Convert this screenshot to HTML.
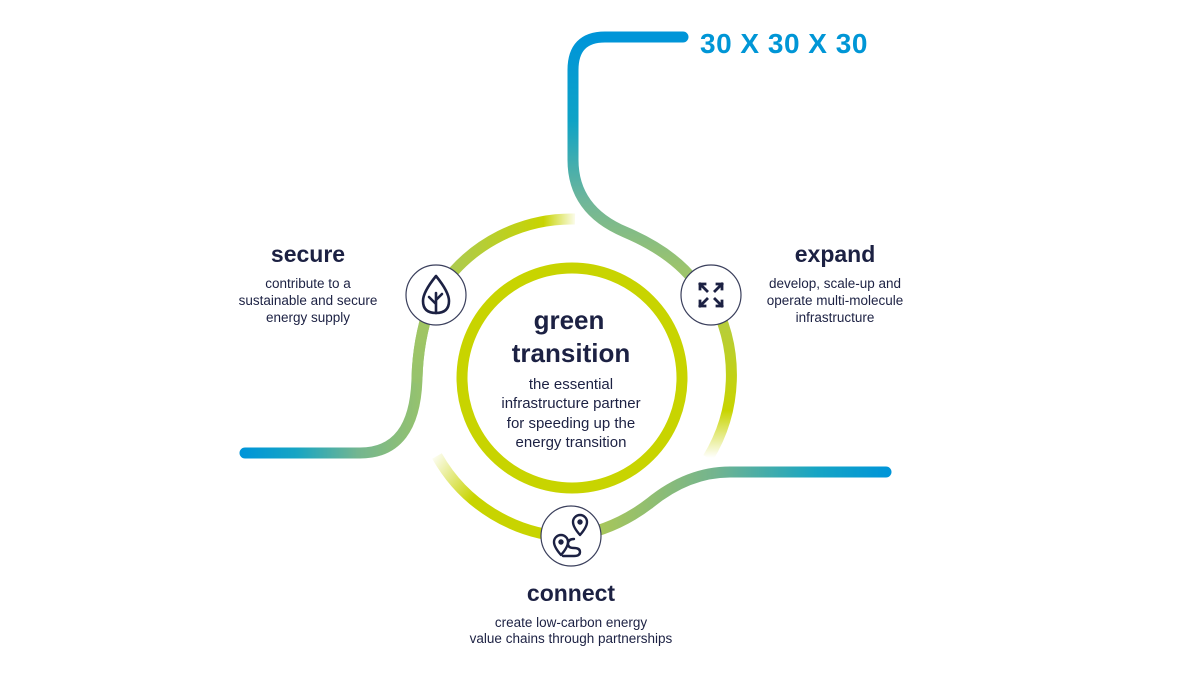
<!DOCTYPE html>
<html><head><meta charset="utf-8"><style>
html,body{margin:0;padding:0;background:#fff}
svg{display:block}
text{font-family:"Liberation Sans",sans-serif;fill:#1c2143}
</style></head><body>
<svg width="1200" height="675" viewBox="0 0 1200 675">
<defs>
<linearGradient id="gTop" gradientUnits="userSpaceOnUse" x1="0" y1="40" x2="0" y2="270">
<stop offset="0" stop-color="#0095d8"/><stop offset="0.35" stop-color="#0ea3c6"/><stop offset="0.7" stop-color="#6fb69a"/><stop offset="1" stop-color="#9dc46c"/></linearGradient>
<linearGradient id="gLeft" gradientUnits="userSpaceOnUse" x1="243" y1="0" x2="420" y2="0">
<stop offset="0" stop-color="#0095d8"/><stop offset="0.3" stop-color="#17a5c4"/><stop offset="0.65" stop-color="#74b690"/><stop offset="1" stop-color="#95c26e"/></linearGradient>
<linearGradient id="gRight" gradientUnits="userSpaceOnUse" x1="600" y1="0" x2="888" y2="0">
<stop offset="0" stop-color="#a7c65a"/><stop offset="0.4" stop-color="#73b48f"/><stop offset="0.75" stop-color="#17a5c4"/><stop offset="1" stop-color="#0095d8"/></linearGradient>
<linearGradient id="gArcTop" gradientUnits="userSpaceOnUse" x1="440" y1="0" x2="578" y2="0">
<stop offset="0" stop-color="#a9c95a"/><stop offset="0.75" stop-color="#c8d400"/><stop offset="1" stop-color="#c8d400" stop-opacity="0"/></linearGradient>
<linearGradient id="gArcRight" gradientUnits="userSpaceOnUse" x1="0" y1="300" x2="0" y2="458">
<stop offset="0" stop-color="#b2cb4a"/><stop offset="0.7" stop-color="#c8d400"/><stop offset="1" stop-color="#c8d400" stop-opacity="0"/></linearGradient>
<linearGradient id="gArcBL" gradientUnits="userSpaceOnUse" x1="435" y1="450" x2="540" y2="530">
<stop offset="0" stop-color="#c8d400" stop-opacity="0"/><stop offset="0.45" stop-color="#c8d400"/><stop offset="1" stop-color="#c8d400"/></linearGradient>
<linearGradient id="gArcL" gradientUnits="userSpaceOnUse" x1="0" y1="300" x2="0" y2="390">
<stop offset="0" stop-color="#a5c75e"/><stop offset="1" stop-color="#95c26e"/></linearGradient>
</defs>
<g fill="none" stroke-linecap="round" stroke-width="11">
<path d="M683 37 L605 37 Q573 37 573 70 L573 160 Q573 210 625 232 Q672 252 695 282" stroke="url(#gTop)"/>
<path d="M442 286 A159 159 0 0 1 575 219" stroke="url(#gArcTop)" stroke-linecap="butt"/>
<path d="M430 305 Q418 340 417 378 Q415 453 360 453 L245 453" stroke="url(#gLeft)"/>
<path d="M430 305 Q418 340 417 378" stroke="url(#gArcL)"/>
<path d="M437 456 A159 159 0 0 0 571 537" stroke="url(#gArcBL)" stroke-linecap="butt"/>
<path d="M571 537 Q615 530 650 503 Q688 472 730 472 L886 472" stroke="url(#gRight)"/>
<path d="M711 297 A159 159 0 0 1 708 458" stroke="url(#gArcRight)" stroke-linecap="butt"/>
</g>
<circle cx="572" cy="378" r="110" fill="#fff" stroke="#c8d400" stroke-width="11"/>
<g fill="#fff" stroke="#3a3f5c" stroke-width="1.2">
<circle cx="436" cy="295" r="30"/>
<circle cx="711" cy="295" r="30"/>
<circle cx="571" cy="536" r="30"/>
</g>
<g fill="none" stroke="#1c2143" stroke-width="2.6" stroke-linecap="round" stroke-linejoin="round">
<path d="M436 276 Q423 292 423 301 Q423 313 436 313 Q449 313 449 301 Q449 292 436 276 Z"/>
<path d="M436 313 L436 293 M436 304 L429 297 M436 300 L442 294"/>
</g>
<g fill="none" stroke="#1c2143" stroke-width="2.8" stroke-linecap="square">
<path d="M700 284 L707 291 M700 284 L700 289 M700 284 L705 284"/>
<path d="M722 284 L715 291 M722 284 L722 289 M722 284 L717 284"/>
<path d="M700 306 L707 299 M700 306 L700 301 M700 306 L705 306"/>
<path d="M722 306 L715 299 M722 306 L722 301 M722 306 L717 306"/>
</g>
<g fill="none" stroke="#1c2143" stroke-width="2.4" stroke-linecap="round" stroke-linejoin="round">
<path d="M580 535 Q573 527 573 522 A7 7 0 0 1 587 522 Q587 527 580 535 Z"/>
<circle cx="580" cy="522" r="1.5" fill="#1c2143"/>
<path d="M561 555 Q554 547 554 542 A7 7 0 0 1 568 542 Q568 547 561 555 Z"/>
<circle cx="561" cy="542" r="1.5" fill="#1c2143"/>
<path d="M574 539 Q568 539 568 544 Q568 548 574 548 Q580 548 580 552 Q580 556 574 556 L563 556"/>
</g>
<text x="700" y="53" font-size="28" font-weight="bold" letter-spacing="0.5" style="fill:#0096d6">30 X 30 X 30</text>
<g text-anchor="middle">
<text x="308" y="262" font-size="23" font-weight="bold">secure</text>
<text x="308" y="288" font-size="13.5">contribute to a</text>
<text x="308" y="305" font-size="13.5">sustainable and secure</text>
<text x="308" y="322" font-size="13.5">energy supply</text>
<text x="835" y="262" font-size="23" font-weight="bold">expand</text>
<text x="835" y="288" font-size="13.5">develop, scale-up and</text>
<text x="835" y="305" font-size="13.5">operate multi-molecule</text>
<text x="835" y="322" font-size="13.5">infrastructure</text>
<text x="571" y="601" font-size="23" font-weight="bold">connect</text>
<text x="571" y="627" font-size="13.5">create low-carbon energy</text>
<text x="571" y="643" font-size="13.5">value chains through partnerships</text>
<text x="569" y="329" font-size="26" font-weight="bold">green</text>
<text x="571" y="362" font-size="26" font-weight="bold">transition</text>
<text x="571" y="389" font-size="15">the essential</text>
<text x="571" y="408" font-size="15">infrastructure partner</text>
<text x="571" y="428" font-size="15">for speeding up the</text>
<text x="571" y="447" font-size="15">energy transition</text>
</g>
</svg>
</body></html>
